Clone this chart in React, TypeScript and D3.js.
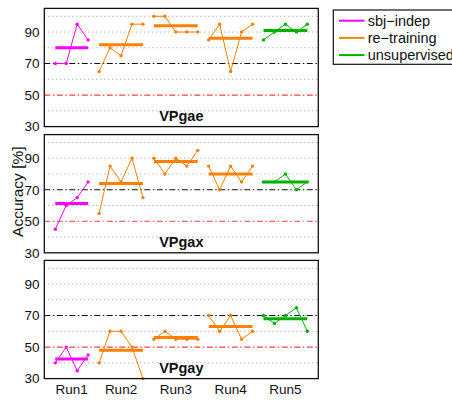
import * as d3 from 'd3';

const runs = ['Run1', 'Run2', 'Run3', 'Run4', 'Run5'];
const methods = ['sbj\u2212indep', 're\u2212training', 'unsupervised'];
const methodColors = ['#ff00ff', '#ff8000', '#00b000'];
const runMethod = [0, 1, 1, 1, 2];
const panelNames = ['VPgae', 'VPgax', 'VPgay'];

const vpgae = [
  [70, 70, 95, 85],
  [65, 80, 75, 95, 95],
  [100, 100, 90, 90, 90],
  [85, 95, 65, 90, 95],
  [85, 90, 95, 90, 95],
];
const vpgax = [
  [45, 60, 65, 75],
  [55, 85, 75, 90, 65],
  [90, 80, 90, 85, 95],
  [85, 70, 85, 75, 85],
  [75, 75, 80, 70, 75],
];
const vpgay = [
  [40, 50, 35, 45],
  [40, 60, 60, 50, 30],
  [55, 60, 55, 55, 55],
  [70, 60, 70, 55, 60],
  [70, 65, 70, 75, 60],
];
const panelData = [vpgae, vpgax, vpgay];

const yTicks = [30, 50, 70, 90];
const gridVals = [40, 60, 80, 90, 100];
const chance = 50;
const target = 70;

const left = 44.3;
const right = 318.3;
const panelH = 118.2;
const panelTops = [8.4, 134.6, 260.4];
const slotsPerRun = 5;

const font = 'Liberation Sans, Arial, Helvetica, sans-serif';

// slot position of each point: runs are 5 slots wide, short runs are right-aligned
const slotOf = (r: number, j: number, n: number) => slotsPerRun * r + (slotsPerRun - n) + j;

export default function App() {
  const x = d3.scaleLinear().domain([0, runs.length * slotsPerRun]).range([left, right]);
  const line = d3.line<[number, number]>().x(d => d[0]).y(d => d[1]);

  const tickX = vpgae.map((vals, r) => x(d3.mean(vals.map((_, j) => slotOf(r, j, vals.length)))!));

  return (
    <svg width={452} height={400} style={{ position: 'absolute', left: 0, top: 0 }} fontFamily={font}>
      {panelData.map((data, p) => {
        const top = panelTops[p];
        const y = d3.scaleLinear().domain([30, 105]).range([top + panelH, top]);
        return (
          <g key={p}>
            <rect x={left} y={top} width={right - left} height={panelH} fill="#fff" />
            {gridVals.map(v => (
              <line key={v} x1={left} x2={right} y1={y(v)} y2={y(v)} stroke="#999" strokeWidth={1} strokeDasharray="1,3" />
            ))}
            <line x1={left} x2={right} y1={y(target)} y2={y(target)} stroke="#111" strokeWidth={1.1} strokeDasharray="6,2.5,1.5,2.5" />
            <line x1={left} x2={right} y1={y(chance)} y2={y(chance)} stroke="#ff4040" strokeWidth={1.1} strokeDasharray="6,2.5,1.5,2.5" />
            {data.map((vals, r) => {
              const color = methodColors[runMethod[r]];
              const pts: [number, number][] = vals.map((v, j) => [x(slotOf(r, j, vals.length)), y(v)]);
              const m = d3.mean(vals)!;
              return (
                <g key={r}>
                  <path d={line(pts)!} fill="none" stroke={color} strokeWidth={1} />
                  {pts.map((pt, j) => (
                    <circle key={j} cx={pt[0]} cy={pt[1]} r={1.7} fill={color} />
                  ))}
                  <line x1={pts[0][0]} x2={pts[pts.length - 1][0]} y1={y(m)} y2={y(m)} stroke={color} strokeWidth={3} />
                </g>
              );
            })}
            <rect x={left} y={top} width={right - left} height={panelH} fill="none" stroke="#111" strokeWidth={1.3} />
            {yTicks.map(v => (
              <text key={v} x={39.5} y={y(v)} dy="0.36em" textAnchor="end" fontSize={13.5} fill="#111">
                {v}
              </text>
            ))}
            <text x={x(12.5)} y={top + panelH - 6} textAnchor="middle" fontSize={14.5} fontWeight="bold" fill="#111">
              {panelNames[p]}
            </text>
          </g>
        );
      })}
      {runs.map((r, i) => (
        <text key={r} x={tickX[i]} y={393.5} textAnchor="middle" fontSize={13.5} fill="#111">
          {r}
        </text>
      ))}
      <text transform={`translate(22.5,${panelTops[1] + panelH / 2 - 2}) rotate(-90)`} textAnchor="middle" fontSize={15.5} fill="#111">
        Accuracy [%]
      </text>
      <g>
        <rect x={333.3} y={10} width={130} height={54.3} fill="#fff" stroke="#111" strokeWidth={1.2} />
        {methods.map((m, i) => (
          <g key={m}>
            <line x1={339} x2={364.5} y1={20.7 + i * 17.2} y2={20.7 + i * 17.2} stroke={methodColors[i]} strokeWidth={2} />
            <text x={367.7} y={20.7 + i * 17.2} dy="0.36em" fontSize={14.5} fill="#111">
              {m}
            </text>
          </g>
        ))}
      </g>
    </svg>
  );
}
